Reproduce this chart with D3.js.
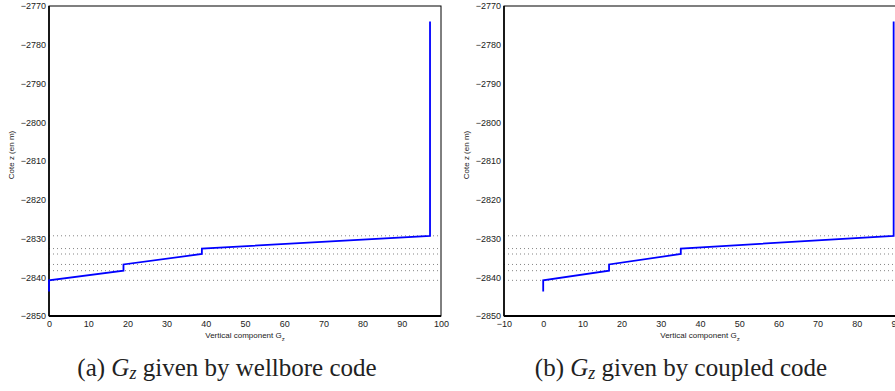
<!DOCTYPE html>
<html>
<head>
    <title>Gz profiles</title>
    <script src="https://cdn.jsdelivr.net/npm/d3@7"></script>
    <style>
        body { margin: 0; background: #fff; }
        svg text { font-family: "Liberation Sans", Arial, sans-serif; }
    </style>
</head>
<body>
    <div id="chart"></div>
    <script>
        // depth of the profile points (m), shared by both panels
        var depth = [-2843.7, -2840.8, -2838.3, -2836.7, -2834.0, -2832.6, -2829.3, -2774.0];
        // Gz from the wellbore code
        var gzWellbore = [0, 0, 19.0, 19.0, 39.0, 39.0, 97.2, 97.2];
        // Gz from the coupled code
        var gzCoupled = [0, 0, 16.8, 16.8, 35.1, 35.1, 89.4, 89.4];
        // layer boundaries (dotted lines)
        var layers = [-2829.3, -2832.6, -2834.0, -2836.7, -2838.3, -2840.8];

        var yTicks = [-2850, -2840, -2830, -2820, -2810, -2800, -2790, -2780, -2770];
        var xTicksA = [0, 10, 20, 30, 40, 50, 60, 70, 80, 90, 100];
        var xTicksB = [-10, 0, 10, 20, 30, 40, 50, 60, 70, 80, 90];

        var W = 895, H = 391;
        var plotW = 392, plotH = 310, plotTop = 6;

        var svg = d3.select("#chart").append("svg")
            .attr("width", W)
            .attr("height", H);

        function fmt(v) { return v < 0 ? "\u2212" + Math.abs(v) : "" + v; }

        function drawPanel(left, xDomain, xTicks, gz, caption, capX) {
            var g = svg.append("g").attr("transform", "translate(" + left + "," + plotTop + ")");
            var x = d3.scaleLinear().domain(xDomain).range([0, plotW]);
            var y = d3.scaleLinear().domain([-2850, -2770]).range([plotH, 0]);

            // dotted layer lines
            g.selectAll(".layer").data(layers).enter().append("line")
                .attr("x1", 0).attr("x2", plotW)
                .attr("y1", function(d) { return y(d); })
                .attr("y2", function(d) { return y(d); })
                .attr("stroke", "#666")
                .attr("stroke-width", 0.8)
                .attr("stroke-dasharray", "1,3");

            // box
            g.append("rect")
                .attr("width", plotW).attr("height", plotH)
                .attr("fill", "none").attr("stroke", "#000").attr("stroke-width", 1);
            g.append("line").attr("x1", 0).attr("x2", 0).attr("y1", 0).attr("y2", plotH)
                .attr("stroke", "#000").attr("stroke-width", 1.6);
            g.append("line").attr("x1", 0).attr("x2", plotW).attr("y1", plotH).attr("y2", plotH)
                .attr("stroke", "#000").attr("stroke-width", 2);

            var xAxis = g.append("g")
                .attr("transform", "translate(0," + plotH + ")")
                .call(d3.axisBottom(x).tickValues(xTicks).tickSize(0).tickPadding(5).tickFormat(fmt));
            xAxis.select(".domain").remove();
            xAxis.selectAll("text").style("font-size", "9px").style("fill", "#222");

            var yAxis = g.append("g")
                .call(d3.axisLeft(y).tickValues(yTicks).tickSize(0).tickPadding(3).tickFormat(fmt));
            yAxis.select(".domain").remove();
            yAxis.selectAll("text").style("font-size", "9px").style("fill", "#222");

            // profile
            var pts = gz.map(function(v, i) { return [v, depth[i]]; });
            var line = d3.line()
                .x(function(d) { return x(d[0]); })
                .y(function(d) { return y(d[1]); });
            g.append("path")
                .datum(pts)
                .attr("fill", "none")
                .attr("stroke", "#0000ff")
                .attr("stroke-width", 1.8)
                .attr("d", line);

            // axis labels
            var xl = g.append("text")
                .attr("x", plotW / 2)
                .attr("y", plotH + 22)
                .attr("text-anchor", "middle")
                .style("font-size", "8px")
                .style("fill", "#222");
            xl.append("tspan").text("Vertical component G");
            xl.append("tspan").attr("dy", 3).style("font-size", "6px").text("z");

            g.append("text")
                .attr("transform", "translate(-35," + (plotH / 2 - 6) + ") rotate(-90)")
                .attr("text-anchor", "middle")
                .style("font-size", "8px")
                .style("fill", "#222")
                .text("Cote z (en m)");

            // caption
            var cap = svg.append("text")
                .attr("x", capX)
                .attr("y", 376)
                .attr("text-anchor", "middle")
                .style("font-family", "'Liberation Serif', 'DejaVu Serif', serif")
                .style("font-size", "25px")
                .style("fill", "#222");
            cap.append("tspan").text(caption[0] + " ");
            cap.append("tspan").style("font-style", "italic").text("G");
            cap.append("tspan").attr("dy", 3).style("font-style", "italic").style("font-size", "18px").text("z");
            cap.append("tspan").attr("dy", -3).text(" " + caption[1]);
        }

        drawPanel(49, [0, 100], xTicksA, gzWellbore, ["(a)", "given by wellbore code"], 227);
        drawPanel(504, [-10, 90], xTicksB, gzCoupled, ["(b)", "given by coupled code"], 681);
    </script>
</body>
</html>
